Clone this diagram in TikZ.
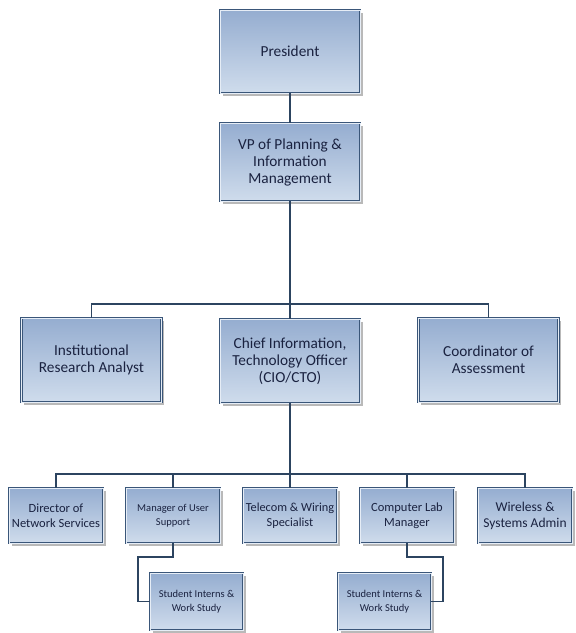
\documentclass[tikz,border=0pt]{standalone}
\usepackage{fontspec}
\setmainfont{Carlito}
\usetikzlibrary{shadows}
\definecolor{boxline}{HTML}{3A5679}
\definecolor{boxtop}{HTML}{95ADD0}
\definecolor{boxbot}{HTML}{CFDCEC}
\definecolor{boxgap}{HTML}{E6EDF6}
\definecolor{txtcol}{HTML}{1A2240}
\definecolor{wire}{HTML}{2C4460}
\tikzset{
  orgbox/.style={rectangle, draw=boxline, line width=0.75pt,
    double=boxgap, double distance=0.9pt,
    top color=boxtop, bottom color=boxbot,
    drop shadow={shadow xshift=2.5pt, shadow yshift=-2.5pt, fill=black!50, opacity=0.55},
    text=txtcol, align=center, inner sep=1pt},
  bigbox/.style={orgbox, minimum width=140pt, font=\fontsize{15.3}{17}\selectfont},
  smallbox/.style={orgbox, minimum width=94pt, minimum height=55pt, font=\fontsize{12.5}{15}\selectfont},
  tinybox/.style={orgbox, minimum width=93pt, font=\fontsize{10.5}{13.5}\selectfont},
  link/.style={draw=wire, line width=1.6pt}
}
\begin{document}
\begin{tikzpicture}[x=1pt, y=-1pt]
\useasboundingbox (0,0) rectangle (576,633);

% top of the chart
\node[bigbox, minimum height=83pt] (pres) at (290,51.5) {President};
\node[bigbox, minimum height=78pt] (vp) at (290,162) {VP of Planning \&\\Information\\Management};

% second level
\node[bigbox, minimum height=84pt] (ira) at (91.5,360) {Institutional\\Research Analyst};
\node[bigbox, minimum height=84pt] (cio) at (290,361) {Chief Information,\\Technology Officer\\(CIO/CTO)};
\node[bigbox, minimum height=84pt] (coa) at (488.5,360) {Coordinator of\\Assessment};

% third level
\node[smallbox] (dns) at (56,515.5) {Director of\\Network Services};
\node[smallbox, font=\fontsize{10.5}{14}\selectfont] (mus) at (173,515.5) {Manager of User\\Support};
\node[smallbox, font=\fontsize{12.3}{15}\selectfont] (tws) at (290,515.5) {Telecom \& Wiring\\Specialist};
\node[smallbox] (clm) at (407,515.5) {Computer Lab\\Manager};
\node[smallbox, font=\fontsize{13.5}{16}\selectfont] (wsa) at (525,515.5) {Wireless \&\\Systems Admin};

% student staff
\node[tinybox, minimum height=57pt] (st1) at (196.5,601.5) {Student Interns \&\\Work Study};
\node[tinybox, minimum height=57pt] (st2) at (384.5,601.5) {Student Interns \&\\Work Study};

% bus points and elbows
\coordinate (busA) at (290,304);
\coordinate (busB) at (290,474);
\coordinate (elL) at (138,557);
\coordinate (elR) at (443,557);

% connectors
\draw[link] (pres.south) -- (vp.north);
\draw[link] (vp.south) -- (cio.north);
\draw[link] (ira.north) |- (busA) -| (coa.north);
\draw[link] (cio.south) -- (tws.north);
\draw[link] (dns.north) |- (busB) -| (wsa.north);
\draw[link] (mus.north) -- (mus.north |- busB);
\draw[link] (clm.north) -- (clm.north |- busB);
\draw[link] (mus.south) |- (elL) |- (st1.west);
\draw[link] (clm.south) |- (elR) |- (st2.east);
\end{tikzpicture}
\end{document}
